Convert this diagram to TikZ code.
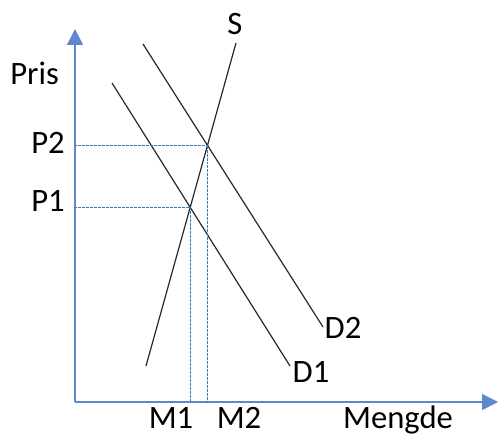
\documentclass[tikz,border=0pt]{standalone}
\usepackage{fontspec}
\setmainfont{Carlito}
\usepackage{tikz}
\usetikzlibrary{arrows.meta}
\definecolor{axisblue}{RGB}{68,114,196}
\definecolor{curvegray}{RGB}{40,40,40}

\begin{document}
\begin{tikzpicture}[x=0.75pt,y=0.75pt,
    axis/.style={line width=1.1pt, axisblue!85, -{Triangle[width=12pt,length=12pt]}},
    curve/.style={line width=0.9pt, curvegray},
    guide/.style={line width=0.55pt, axisblue, dash pattern=on 0.5pt off 0.5pt},
    lbl/.style={anchor=base, inner sep=0pt, font=\fontsize{24.5}{29}\selectfont}]
  \useasboundingbox (0,0) rectangle (499,436);

  \coordinate (O) at (75,34); \coordinate (Ytop) at (75,407); \coordinate (Xend) at (498,34);

  % axes
  \draw[axis] (O) -- (Ytop);
  \draw[axis] (O) -- (Xend);

  % supply and demand
  \coordinate (S1) at (146,70);  \coordinate (S2) at (236,393);
  \coordinate (Da) at (112,353); \coordinate (Db) at (290,70);
  \coordinate (Dc) at (143,392); \coordinate (Dd) at (323,109);
  \draw[curve] (S1) -- (S2);
  \draw[curve] (Da) -- (Db);
  \draw[curve] (Dc) -- (Dd);

  % equilibria
  \coordinate (E1) at (190,229); \coordinate (E2) at (207.5,291);
  \coordinate (Py1) at (75,229); \coordinate (Py2) at (75,291);
  \coordinate (Mx1) at (190,34); \coordinate (Mx2) at (207.5,34);
  \draw[guide] (Py1) -- (E1) -- (Mx1);
  \draw[guide] (Py2) -- (E2) -- (Mx2);

  \node[lbl] (s) at (235,401) {S};
  \node[lbl, anchor=base west] (pris) at (10,351) {Pris};
  \node[lbl] (p2) at (48,282) {P2};
  \node[lbl] (p1) at (48,224) {P1};
  \node[lbl] (m1) at (171,8) {M1};
  \node[lbl] (m2) at (239,8) {M2};
  \node[lbl] (mengde) at (398,8) {Mengde};
  \node[lbl] (d2) at (343,98) {D2};
  \node[lbl] (d1) at (311,54) {D1};
\end{tikzpicture}
\end{document}
